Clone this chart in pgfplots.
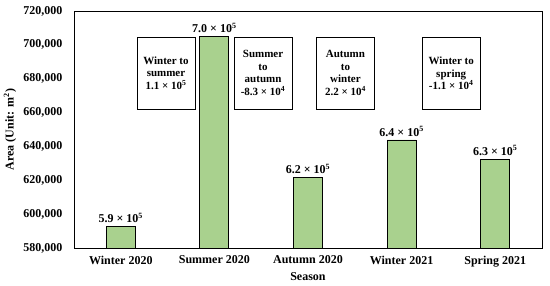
\documentclass[border=0pt]{standalone}
\usepackage{pgfplots}
\pgfplotsset{compat=1.18}
\usepackage{fontspec}
\setmainfont{Liberation Serif}
\definecolor{bargreen}{HTML}{A9D18E}
\begin{document}
\begin{tikzpicture}
\path[use as bounding box] (-74pt,-37pt) rectangle (476pt,248pt);
\begin{axis}[
  scale only axis,
  width=468pt, height=237pt,
  at={(0,0)}, anchor=south west,
  xmin=-0.5, xmax=4.5,
  ymin=580000, ymax=720000,
  ytick={580000,600000,620000,640000,660000,680000,700000,720000},
  yticklabels={{580,000},{600,000},{620,000},{640,000},{660,000},{680,000},{700,000},{720,000}},
  scaled y ticks=false,
  yticklabel style={font=\fontsize{12}{14}\selectfont\bfseries, xshift=-8pt},
  xticklabel style={font=\fontsize{12}{14}\selectfont\bfseries},
  xtick={0,1,2,3,4},
  xticklabels={Winter 2020,Summer 2020,Autumn 2020,Winter 2021,Spring 2021},
  tick style={draw=none},
  axis line style={line width=0.9pt},
  ylabel={Area (Unit: m\textsuperscript{2})},
  xlabel={Season},
  ylabel style={font=\fontsize{12}{14}\selectfont\bfseries, at={(axis description cs:0,0.5)}, yshift=64pt, anchor=center},
  xlabel style={font=\fontsize{12}{14}\selectfont\bfseries, yshift=1pt},
  ybar, bar width=29pt,
  point meta=explicit symbolic,
  nodes near coords,
  nodes near coords style={font=\fontsize{12}{14}\selectfont\bfseries, text=black},
]
\addplot[fill=bargreen, draw=black, line width=0.9pt] coordinates {
  (0,592600) [5.9 × 10\textsuperscript{5}]
  (1,704800) [7.0 × 10\textsuperscript{5}]
  (2,621500) [6.2 × 10\textsuperscript{5}]
  (3,643800) [6.4 × 10\textsuperscript{5}]
  (4,632400) [6.3 × 10\textsuperscript{5}]
};
\tikzset{bx/.style={draw=black, line width=0.9pt, fill=white, minimum width=58pt, minimum height=72pt, align=center, font=\fontsize{11}{12.5}\selectfont\bfseries, inner sep=1pt}}
\node[bx] at (axis cs:0.483,683400) {Winter to\\summer\\1.1 × 10\textsuperscript{5}};
\node[bx] at (axis cs:1.52,683400) {Summer\\to\\autumn\\-8.3 × 10\textsuperscript{4}};
\node[bx] at (axis cs:2.40,683400) {Autumn\\to\\winter\\2.2 × 10\textsuperscript{4}};
\node[bx] at (axis cs:3.53,683100) {Winter to\\spring\\-1.1 × 10\textsuperscript{4}};
\end{axis}
\end{tikzpicture}
\end{document}
